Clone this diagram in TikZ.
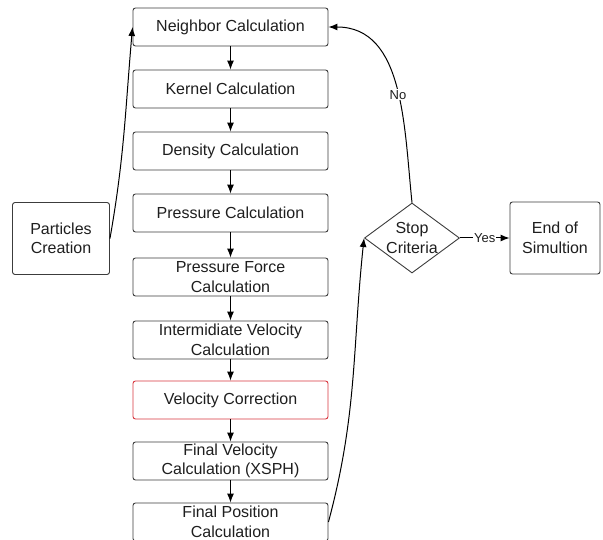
\documentclass[tikz,border=0pt]{standalone}
\usepackage{fontspec}
\setmainfont{Liberation Sans}
\usetikzlibrary{arrows.meta}
\usetikzlibrary{shapes.geometric}
\definecolor{box-gray}{HTML}{3C3C3C}
\definecolor{box-red}{HTML}{D7373F}
\definecolor{text-gray}{HTML}{1E1E1E}
\tikzstyle{calcbox}=[draw=box-gray,line width=0.9pt,rounded corners=2.5pt,minimum width=195pt,minimum height=38pt,inner sep=1pt,align=center,text=text-gray,font=\fontsize{16}{19.5}\selectfont]
\tikzstyle{sidebox}=[calcbox,minimum width=97pt,minimum height=72pt]
\tikzstyle{decision}=[diamond,draw=box-gray,line width=0.9pt,aspect=1.36,inner sep=-2pt,minimum width=95pt,minimum height=70pt,align=center,text=text-gray,font=\fontsize{16}{19.5}\selectfont]
\tikzstyle{flow}=[-{Latex[length=9pt,width=7pt]},line width=1pt]
\tikzstyle{flowlabel}=[fill=white,inner sep=1pt,text=text-gray,font=\fontsize{13}{15}\selectfont]

\begin{document}
\begin{tikzpicture}[x=1pt,y=-1pt]
\useasboundingbox (0,0) rectangle (603,540);
% main column of calculation steps
\node[calcbox] (nbr) at (230.5,27) {Neighbor Calculation};
\node[calcbox] (kern) at (230.5,89) {Kernel Calculation};
\node[calcbox] (dens) at (230.5,151) {Density Calculation};
\node[calcbox] (pres) at (230.5,213) {Pressure Calculation};
\node[calcbox] (pforce) at (230.5,277) {Pressure Force\\Calculation};
\node[calcbox] (ivel) at (230.5,340) {Intermidiate Velocity\\Calculation};
\node[calcbox,draw=box-red] (vcorr) at (230.5,400) {Velocity Correction};
\node[calcbox] (fvel) at (230.5,461) {Final Velocity\\Calculation (XSPH)};
\node[calcbox] (fpos) at (230.5,522) {Final Position\\Calculation};
% start, decision and end
\node[sidebox] (pcreate) at (61,238.5) {Particles\\Creation};
\node[decision] (stop) at (412,238) {Stop\\Criteria};
\node[sidebox,minimum width=90pt] (endsim) at (555,238) {End of\\Simultion};
% arrows down the column
\foreach \a/\b in {nbr/kern,kern/dens,dens/pres,pres/pforce,pforce/ivel,ivel/vcorr,vcorr/fvel,fvel/fpos}
	\draw[flow] (\a) -- (\b);
% loop back and exit
\draw[flow] (pcreate.east) to[out=80,in=-95] (nbr.west);
\draw[flow] (fpos.east) to[out=75,in=-96] (stop.west);
\draw[flow] (stop.north) to[out=96,in=0] node[pos=0.46,flowlabel] {No} (nbr.east);
\draw[flow] (stop) -- node[flowlabel] {Yes} (endsim);
\end{tikzpicture}
\end{document}
